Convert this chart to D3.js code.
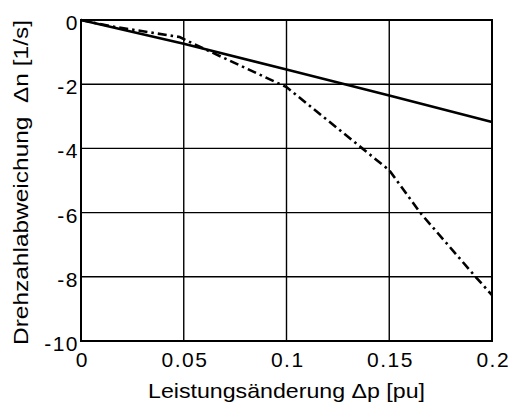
<!DOCTYPE html>
<html>
<head>
<meta charset="utf-8">
<script src="https://cdn.jsdelivr.net/npm/d3@7"></script>
<style>
  html, body { margin: 0; padding: 0; background: #fff; }
  svg { display: block; }
  text { font-family: "Liberation Sans", Arial, sans-serif; fill: #000; }
</style>
</head>
<body>
<svg id="chart" width="512" height="405"></svg>
<script>
// Power change (pu) vs. speed deviation (1/s)
const xTicks = [0, 0.05, 0.1, 0.15, 0.2];
const xTickLabels = ["0", "0.05", "0.1", "0.15", "0.2"];
const yTicks = [0, -2, -4, -6, -8, -10];
const yTickLabels = ["0", "-2", "-4", "-6", "-8", "-10"];

// solid curve
const solidP = [0, 0.05, 0.1, 0.15, 0.2];
const solidN = [0, -0.74, -1.54, -2.35, -3.18];

// dash-dot curve
const dashP = [0, 0.015, 0.048, 0.055, 0.1, 0.15, 0.165, 0.192, 0.2];
const dashN = [0, -0.2, -0.53, -0.75, -2.09, -4.68, -6.0, -8.0, -8.57];

const xLabel = "Leistungsänderung Δp [pu]";
const yLabel = "Drehzahlabweichung  Δn [1/s]";

const FONT = "Liberation Sans, Arial, sans-serif";
const svg = d3.select("#chart");
const m = { left: 81, top: 20, right: 492, bottom: 341 };

const x = d3.scaleLinear().domain([0, 0.2]).range([m.left, m.right]);
const y = d3.scaleLinear().domain([-10, 0]).range([m.bottom, m.top]);

// grid
const grid = svg.append("g").attr("stroke", "#000").attr("stroke-width", 1.4);
grid.selectAll("line.gx").data(xTicks.slice(1, -1)).join("line")
  .attr("x1", d => x(d)).attr("x2", d => x(d))
  .attr("y1", m.top).attr("y2", m.bottom);
grid.selectAll("line.gy").data(yTicks.slice(1, -1)).join("line")
  .attr("y1", d => y(d)).attr("y2", d => y(d))
  .attr("x1", m.left).attr("x2", m.right);

// axes (labels only; ticks are covered by the grid)
const xAxis = d3.axisBottom(x).tickValues(xTicks)
  .tickFormat((d, i) => xTickLabels[i]).tickSize(0).tickPadding(11);
const gx = svg.append("g").attr("transform", `translate(0,${m.bottom})`).call(xAxis);
gx.attr("font-size", 21).attr("font-family", FONT);
gx.select(".domain").remove();
gx.selectAll("text").attr("letter-spacing", 1.5).attr("dx", "0.75");

const yAxis = d3.axisLeft(y).tickValues(yTicks)
  .tickFormat((d, i) => yTickLabels[i]).tickSize(0).tickPadding(2);
const gy = svg.append("g").attr("transform", `translate(${m.left},0)`).call(yAxis);
gy.attr("font-size", 21).attr("font-family", FONT);
gy.select(".domain").remove();
gy.selectAll("text").attr("letter-spacing", 1.5).attr("dy", "0.45em");

// frame
svg.append("rect")
  .attr("x", m.left).attr("y", m.top)
  .attr("width", m.right - m.left).attr("height", m.bottom - m.top)
  .attr("fill", "none").attr("stroke", "#000").attr("stroke-width", 2);

const line = d3.line().x(d => x(d[0])).y(d => y(d[1]));

svg.append("path")
  .datum(solidP.map((p, i) => [p, solidN[i]]))
  .attr("d", line).attr("fill", "none")
  .attr("stroke", "#000").attr("stroke-width", 2.6);

svg.append("path")
  .datum(dashP.map((p, i) => [p, dashN[i]]))
  .attr("d", line).attr("fill", "none")
  .attr("stroke", "#000").attr("stroke-width", 2.6)
  .attr("stroke-dasharray", "9,4,2.5,4");

// axis titles
svg.append("text")
  .attr("x", 148).attr("y", 398)
  .attr("font-size", 21)
  .attr("textLength", 277).attr("lengthAdjust", "spacingAndGlyphs")
  .text(xLabel);

svg.append("text")
  .attr("transform", `translate(28,345) rotate(-90)`)
  .attr("font-size", 21)
  .attr("xml:space", "preserve")
  .style("white-space", "pre")
  .attr("textLength", 325).attr("lengthAdjust", "spacingAndGlyphs")
  .text(yLabel);
</script>
</body>
</html>
